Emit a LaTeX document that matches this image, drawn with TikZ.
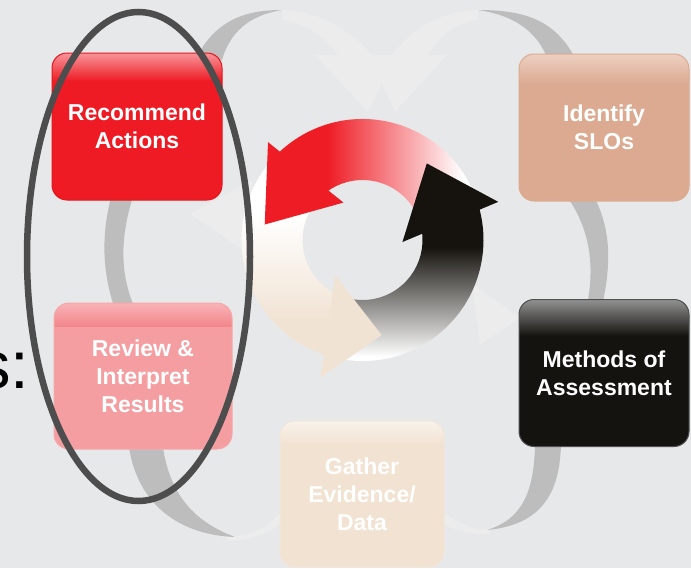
\documentclass[tikz,border=0pt]{standalone}
\usepackage{fontspec}
\setmainfont{Liberation Sans}
\usetikzlibrary{shapes.geometric}
\definecolor{bg}{HTML}{E7E8EA}
\definecolor{faint}{HTML}{ECECED}
\definecolor{arcgray}{HTML}{BDBDBD}
\definecolor{ellgray}{HTML}{4D4D4D}
\definecolor{arrred}{HTML}{EE1C25}
\definecolor{arrblack}{HTML}{16130E}
\definecolor{arrbeige}{HTML}{F1E3D4}
\definecolor{recbase}{HTML}{EE1B24}
\definecolor{rectop}{HTML}{F7959A}
\definecolor{recline}{HTML}{E5161E}
\definecolor{idbase}{HTML}{DCAA91}
\definecolor{idtop}{HTML}{EDD0C2}
\definecolor{metbase}{HTML}{15130F}
\definecolor{mettop}{HTML}{909090}
\definecolor{metline}{HTML}{505050}
\definecolor{revbase}{HTML}{F59EA2}
\definecolor{revtop}{HTML}{F2868B}
\definecolor{revhi}{HTML}{F8B4B7}
\definecolor{revline}{HTML}{F6A7AA}
\definecolor{gatbase}{HTML}{F1E2D2}
\definecolor{gattop}{HTML}{F9F2EA}
\definecolor{gatline}{HTML}{F3E6D9}
\tikzset{
  box/.style={rounded corners=15pt, minimum width=170pt, minimum height=147pt,
    inner sep=0pt, align=center, text=white, line width=1pt,
    font=\fontsize{23}{28}\selectfont\bfseries},
  % gloss={top colour}{band end colour}{fill}{outline}{band height in pt}
  gloss/.style n args={5}{fill=#3, draw=#4,
    path picture={
      \foreach \k in {0,...,#5} {
        \pgfmathsetmacro\pc{100*(1-\k/#5)}
        \fill[sharp corners, #1!\pc!#2]
          ([yshift=-\k pt]path picture bounding box.north west) rectangle
          ([yshift=-\k pt-1.3pt]path picture bounding box.north east);
      }}},
  crescent/.style={fill=arcgray},
  fainty/.style={fill=faint},
}
\begin{document}
\begin{tikzpicture}[x=1pt,y=-1pt]
\useasboundingbox (0,0) rectangle (691,568);
\fill[bg] (0,0) rectangle (691,568);

% faint background arrows
\path[fainty] (282,10) .. controls (320,11) and (350,30) .. (372,55)
  -- (338,55) .. controls (326,38) and (306,22) .. (282,20) -- cycle;
\path[fainty] (315,55) -- (395.5,55) -- (368,112) -- cycle;
\path[fainty] (478,10) .. controls (440,11) and (410,30) .. (392,55)
  -- (428,55) .. controls (438,38) and (456,22) .. (478,20) -- cycle;
\path[fainty] (369,55) -- (447,55) -- (395,112) -- cycle;
\path[fainty] (190,214) -- (252,180) -- (252,256) -- cycle;
\path[fainty] (472,284) -- (521,318) -- (480,344) -- cycle;
\path[fainty] (226,536) .. controls (250,538) and (268,528) .. (284,508)
  -- (284,522) .. controls (268,534) and (250,541) .. (226,541) -- cycle;
\path[fainty] (490,529) .. controls (470,530) and (455,522) .. (440,508)
  -- (440,522) .. controls (455,531) and (470,535) .. (490,534) -- cycle;

% gray crescents
\path[crescent] (195,60) .. controls (215,20) and (245,10) .. (282,10)
  .. controls (258,14) and (232,25) .. (222,60) -- cycle;
\path[crescent] (576,60) .. controls (556,20) and (525,10) .. (478,10)
  .. controls (505,14) and (535,25) .. (548,60) -- cycle;
\path[crescent] (113,190) .. controls (100,235) and (102,275) .. (117,315)
  -- (138,315) .. controls (118,275) and (120,235) .. (135,190) -- cycle;
\path[crescent] (562,190) .. controls (590,225) and (596,265) .. (586,310)
  -- (601,310) .. controls (612,265) and (612,225) .. (590,190) -- cycle;
\path[crescent] (561,440) .. controls (561,495) and (540,525) .. (487,530)
  .. controls (520,520) and (535,495) .. (535,440) -- cycle;
\path[crescent] (128,440) .. controls (135,505) and (180,535) .. (235,537)
  .. controls (195,522) and (168,495) .. (162,440) -- cycle;

% boxes
\node[box, gloss={rectop}{recbase}{recbase}{recline}{28}] (rec) at (137,126.5) {Recommend\\Actions};
\node[box, gloss={idtop}{idbase}{idbase}{idbase}{30}] (ide) at (604,127.5) {Identify\\SLOs};
\node[box, gloss={mettop}{metbase}{metbase}{metline}{36}] (met) at (604,373) {Methods of\\Assessment};
\node[box, minimum width=178pt, minimum height=146pt,
  gloss={revhi}{revtop}{revbase}{revline}{23}] (rev) at (143,376) {Review \&\\Interpret\\Results};
\node[box, minimum width=164pt, minimum height=146pt,
  gloss={gattop}{gatbase}{gatbase}{gatline}{24}] (gat) at (362,494) {Gather\\Evidence/\\Data};

% central cycle arrows
\begin{scope}[shift={(362.5,240)}, yscale=-1]
  \begin{scope}
    \clip (20:121) arc[start angle=20, end angle=138, radius=121]
      -- (138:60) arc[start angle=138, end angle=20, radius=60] -- cycle;
    \fill[arrred] (-140,-20) rectangle (-35.5,140);
    \shade[left color=arrred, right color=white] (-35.5,-20) rectangle (100,140);
    \fill[white] (100,-20) rectangle (140,140);
  \end{scope}
  \begin{scope}
    \clip (-106:121) arc[start angle=-106, end angle=20, radius=121]
      -- (20:60) arc[start angle=20, end angle=-106, radius=60] -- cycle;
    \fill[arrblack] (-140,-7) rectangle (140,140);
    \shade[top color=arrblack, bottom color=white] (-140,-117) rectangle (140,-7);
    \fill[white] (-140,-140) rectangle (140,-117);
  \end{scope}
  \begin{scope}
    \clip (138:121) arc[start angle=138, end angle=254, radius=121]
      -- (254:60) arc[start angle=254, end angle=138, radius=60] -- cycle;
    \fill[white] (-140,25) rectangle (140,140);
    \shade[top color=white, bottom color=arrbeige] (-140,-80) rectangle (140,25);
    \fill[arrbeige] (-140,-140) rectangle (140,-80);
  \end{scope}
  \fill[arrred] (134:136) -- (171:99) -- (117:42) -- cycle;
  \fill[arrblack] (15.7:141) -- (50:100) -- (-2.9:40) -- cycle;
  \fill[arrbeige] (-107:144) -- (-78.6:97) -- (-128:44.5) -- cycle;
\end{scope}

% ellipse highlight
\draw[line width=6.5pt, ellgray] (138.5,256.5) ellipse [x radius=111.5, y radius=244.5];

% title remnant
\node[anchor=base west, inner sep=0pt, font=\fontsize{67}{67}\selectfont] (title) at (-23,388) {s:};
\end{tikzpicture}
\end{document}
